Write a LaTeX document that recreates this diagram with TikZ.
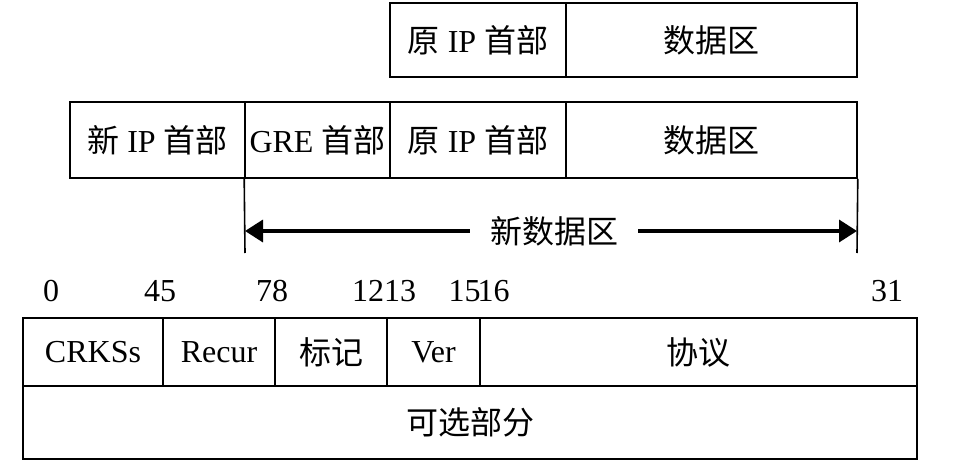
\documentclass[tikz,border=0pt]{standalone}
\usepackage{fontspec}
\setmainfont{Liberation Serif}
\newfontfamily\cjk{Noto Sans CJK SC}
\usetikzlibrary{arrows.meta}
\begin{document}
\begin{tikzpicture}[x=1pt,y=-1pt,
  cell/.style={draw,line width=1.6pt,inner sep=0pt,minimum height=#1,font=\fontsize{32}{38}\selectfont},
  lbl/.style={inner sep=0pt,font=\fontsize{32}{38}\selectfont},
  arr/.style={line width=3.5pt,-{Triangle[length=18pt,width=22pt]}},
  edge/.style={line width=1.6pt}]
\useasboundingbox (0,0) rectangle (978,471);
% top row
\node[cell=74, minimum width=176] (t1) at (478,40) {{\cjk 原} IP {\cjk 首部}};
\node[cell=74, minimum width=291] (t2) at (711.5,40) {\cjk 数据区};
% second row
\node[cell=76, minimum width=175] (s1) at (157.5,140) {{\cjk 新} IP {\cjk 首部}};
\node[cell=76, minimum width=145] (s2) at (317.5,140) {GRE {\cjk 首部}};
\node[cell=76, minimum width=176] (s3) at (478,140) {{\cjk 原} IP {\cjk 首部}};
\node[cell=76, minimum width=291] (s4) at (711.5,140) {\cjk 数据区};
% extent lines and arrow
\coordinate (eL) at (245,253);
\coordinate (eR) at (857,253);
\draw[edge] (s2.south west) -- (eL);
\draw[edge] (s4.south east) -- (eR);
\coordinate (aL) at (245,231);
\coordinate (aR) at (857,231);
\node[lbl, inner xsep=20pt] (nd) at (554,231) {\cjk 新数据区};
\draw[arr] (nd.west) -- (aL);
\draw[arr] (nd.east) -- (aR);
% bit numbers
\node[lbl] (n0) at (51,291) {0};
\node[lbl] (n45) at (160,291) {45};
\node[lbl] (n78) at (272,291) {78};
\node[lbl] (n1213) at (384,291) {1213};
\node[lbl] (n1516) at (479,291) {15\kern-3pt16};
\node[lbl] (n31) at (887,291) {31};
% bottom table
\node[cell=68, minimum width=140] (b1) at (93,352) {CRKSs};
\node[cell=68, minimum width=112] (b2) at (219,352) {Recur};
\node[cell=68, minimum width=112] (b3) at (331,352) {\cjk 标记};
\node[cell=68, minimum width=93] (b4) at (433.5,352) {Ver};
\node[cell=68, minimum width=437] (b5) at (698.5,352) {\cjk 协议};
\node[cell=73, minimum width=894] (b6) at (470,422.5) {\cjk 可选部分};
\end{tikzpicture}
\end{document}
